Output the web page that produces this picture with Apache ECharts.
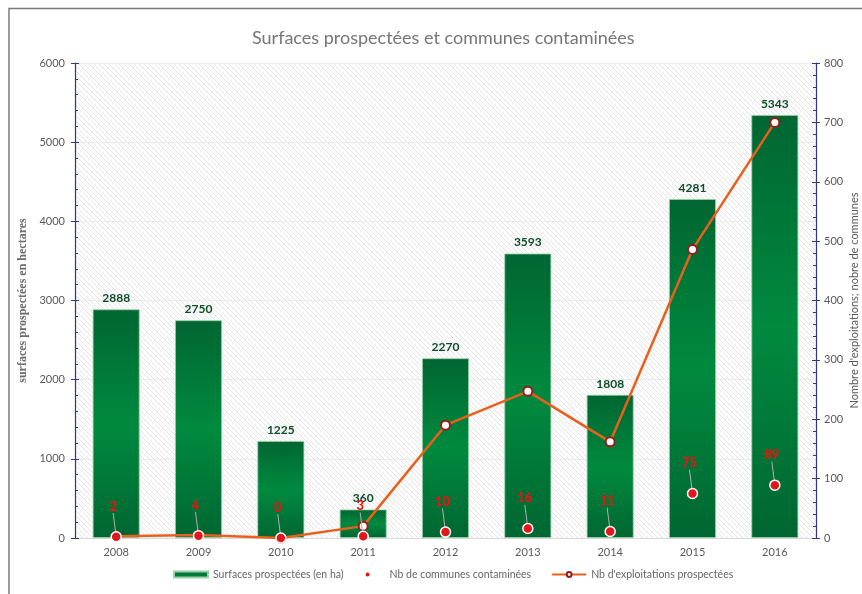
<!DOCTYPE html>
<html>
<head>
<meta charset="utf-8">
<script src="https://cdn.jsdelivr.net/npm/echarts@6/dist/echarts.min.js"></script>
<style>
  html, body { margin: 0; padding: 0; background: #fff; }
  #main { width: 862px; height: 594px; }
</style>
</head>
<body>
<div id="main"></div>
<script>
  const years = ['2008', '2009', '2010', '2011', '2012', '2013', '2014', '2015', '2016'];
  const surfaces = [2888, 2750, 1225, 360, 2270, 3593, 1808, 4281, 5343];
  const communes = [2, 4, 0, 3, 10, 16, 11, 75, 89];
  const exploitations = [3, 5, 0, 20, 190, 247, 162, 486, 700];
  const leftTicks = [0, 6000, 1000];
  const rightTicks = [0, 800, 100];

  // motif hachuré du fond
  const hatch = document.createElement('canvas');
  hatch.width = 5; hatch.height = 5;
  const hc = hatch.getContext('2d');
  hc.fillStyle = '#fcfcfc';
  hc.fillRect(0, 0, 5, 5);
  hc.strokeStyle = '#e6e6e6';
  hc.lineWidth = 1;
  hc.beginPath();
  hc.moveTo(0, 0); hc.lineTo(5, 5);
  hc.moveTo(-3, 2); hc.lineTo(3, 8);
  hc.moveTo(2, -3); hc.lineTo(8, 3);
  hc.stroke();

  const font = 'Lato, "Open Sans", sans-serif';
  const navy = '#2E3A7C';
  const grey = '#595959';

  const chart = echarts.init(document.getElementById('main'));
  const barGrad = new echarts.graphic.LinearGradient(0, 0, 0, 1, [
    { offset: 0, color: '#006632' },
    { offset: 0.5, color: '#008A3E' },
    { offset: 1, color: '#006632' }
  ]);

  const option = {
    textStyle: { fontFamily: font },
    title: {
      text: 'Surfaces prospectées et communes contaminées',
      left: 247,
      top: 24,
      textStyle: { fontSize: 18, fontWeight: 'normal', color: '#767676', fontFamily: font }
    },
    graphic: [{
      type: 'polyline',
      shape: { points: [[9, 600], [9, 8.5], [870, 8.5]] },
      style: { stroke: '#7a7a7a', lineWidth: 1.5, fill: null }
    }],
    legend: {
      bottom: 9,
      left: 168,
      itemGap: 20,
      textStyle: { fontSize: 10.5, color: '#666', fontFamily: font },
      data: [
        { name: 'Surfaces prospectées (en ha)', icon: 'rect', itemStyle: { color: '#007A38' } },
        { name: 'Nb de communes contaminées', icon: 'circle' },
        { name: "Nb d'exploitations prospectées" }
      ],
      itemWidth: 34,
      itemHeight: 6
    },
    grid: {
      left: 75, right: 46, top: 63, bottom: 56,
      outerBoundsMode: 'none',
      containLabel: false,
      show: true,
      borderWidth: 0,
      backgroundColor: { image: hatch, repeat: 'repeat' }
    },
    xAxis: {
      type: 'category',
      data: years,
      axisLine: { lineStyle: { color: '#d9d9d9' } },
      axisTick: { show: false },
      axisLabel: { color: grey, fontSize: 11, margin: 9 }
    },
    yAxis: [
      {
        type: 'value',
        min: leftTicks[0], max: leftTicks[1], interval: leftTicks[2],
        name: 'surfaces prospectées en hectares',
        nameLocation: 'middle',
        nameGap: 44,
        nameTextStyle: { fontFamily: '"Liberation Serif", serif', fontSize: 12, fontWeight: 'bold', color: '#6b6b6b' },
        axisLine: { show: true, lineStyle: { color: navy, width: 1.2 } },
        axisTick: { show: true, inside: true, length: 4, lineStyle: { color: navy } },
        minorTick: { show: true, splitNumber: 5, length: 3, lineStyle: { color: navy } },
        axisLabel: { color: grey, fontSize: 11, margin: 10, formatter: v => String(v) },
        splitLine: { lineStyle: { color: '#ececec' } }
      },
      {
        type: 'value',
        position: 'right',
        min: rightTicks[0], max: rightTicks[1], interval: rightTicks[2],
        name: "Nombre d'exploitations; nobre de communes",
        nameLocation: 'middle',
        nameGap: 33,
        nameMoveOverlap: false,
        nameRotate: 90,
        nameTextStyle: { fontSize: 11, color: grey, fontFamily: font },
        axisLine: { show: true, lineStyle: { color: navy, width: 1.2 } },
        axisTick: { show: true, inside: true, length: 4, lineStyle: { color: navy } },
        minorTick: { show: true, splitNumber: 5, length: 3, lineStyle: { color: navy } },
        axisLabel: { color: grey, fontSize: 11, margin: 8 },
        splitLine: { show: false }
      },
      {
        type: 'value',
        position: 'left',
        min: leftTicks[0], max: leftTicks[1], interval: leftTicks[2],
        axisLine: { show: false },
        axisTick: { show: true, inside: false, length: 4, lineStyle: { color: navy } },
        axisLabel: { show: false },
        splitLine: { show: false }
      },
      {
        type: 'value',
        position: 'right',
        min: rightTicks[0], max: rightTicks[1], interval: rightTicks[2],
        axisLine: { show: false },
        axisTick: { show: true, inside: false, length: 4, lineStyle: { color: navy } },
        axisLabel: { show: false },
        splitLine: { show: false }
      }
    ],
    series: [
      {
        name: 'Surfaces prospectées (en ha)',
        type: 'bar',
        data: surfaces,
        barWidth: '57%',
        itemStyle: { color: barGrad, borderColor: '#9ccfa9', borderWidth: 0.8 },
        label: {
          show: true, position: 'top', distance: 5,
          color: '#0E4D2A', fontWeight: 'bold', fontSize: 12, fontFamily: font
        },
        z: 2
      },
      {
        name: "Nb d'exploitations prospectées",
        type: 'line',
        yAxisIndex: 1,
        data: exploitations,
        symbol: 'circle',
        symbolSize: 9,
        lineStyle: { color: '#E8601C', width: 2.5 },
        itemStyle: { color: '#ffffff', borderColor: '#9A1B1B', borderWidth: 2 },
        z: 3
      },
      {
        name: 'Nb de communes contaminées',
        type: 'scatter',
        yAxisIndex: 1,
        data: communes,
        symbolSize: 10,
        itemStyle: { color: '#E3161B', borderColor: '#ffffff', borderWidth: 1.5, opacity: 1 },
        label: {
          show: true, position: 'top', distance: 0, opacity: 1,
          textBorderWidth: 0,
          color: '#F01010', fontWeight: 900, fontSize: 13, fontFamily: font
        },
        labelLayout: { dy: -18, dx: -3 },
        labelLine: { show: true, lineStyle: { color: '#b0b0b0', width: 1 } },
        z: 4
      }
    ]
  };
  chart.setOption(option);
</script>
</body>
</html>
